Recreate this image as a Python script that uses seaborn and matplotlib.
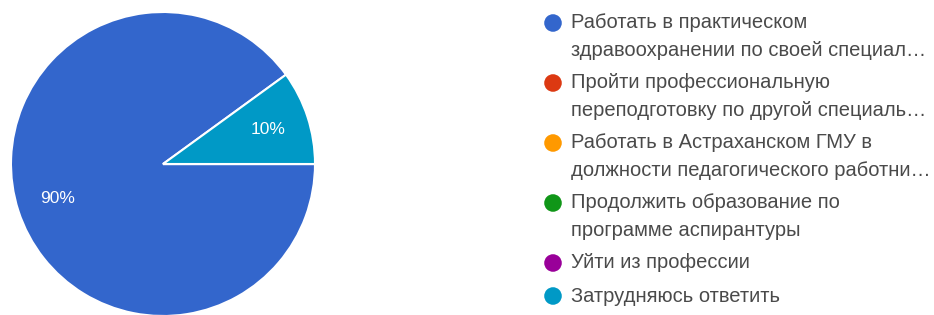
import matplotlib
matplotlib.use("Agg")
import matplotlib.pyplot as plt
import seaborn as sns

categories = [
    "Работать в практическом\nздравоохранении по своей специал…",
    "Пройти профессиональную\nпереподготовку по другой специаль…",
    "Работать в Астраханском ГМУ в\nдолжности педагогического работни…",
    "Продолжить образование по\nпрограмме аспирантуры",
    "Уйти из профессии",
    "Затрудняюсь ответить",
]
values = [90, 0, 0, 0, 0, 10]
colors = ["#3366CC", "#DC3912", "#FF9900", "#109618", "#990099", "#0099C6"]

sns.set_theme(style="white")
plt.rcParams["font.family"] = ["Liberation Sans", "DejaVu Sans"]

W, H = 934, 315
fig = plt.figure(figsize=(W / 100, H / 100), dpi=100)
fig.patch.set_facecolor("white")

# pie axes: center (163,164) px, radius 152 px
cx, cy, r = 163, 164, 152
ax = fig.add_axes([(cx - r) / W, (H - cy - r) / H, 2 * r / W, 2 * r / H])

def fmt(p):
    return f"{p:.0f}%" if p >= 1 else ""

wedges, texts, autotexts = ax.pie(
    values, colors=colors, startangle=36, counterclock=True,
    autopct=fmt, pctdistance=0.73,
    wedgeprops=dict(edgecolor="white", linewidth=1.5),
    textprops=dict(color="white", fontsize=12.5),
)
for w in wedges:
    w.set_clip_on(False)
ax.set_xlim(-1, 1)
ax.set_ylim(-1, 1)
ax.set_aspect("equal")
ax.axis("off")

# legend drawn in pixel coordinates
lax = fig.add_axes([0, 0, 1, 1], facecolor="none")
lax.set_xlim(0, W)
lax.set_ylim(H, 0)
lax.axis("off")
y = 23
line_h = 27
gap = 6
for lab, col in zip(categories, colors):
    lax.scatter([553], [y], s=160, color=col, edgecolors="none", clip_on=False)
    lines = lab.split("\n")
    for i, ln in enumerate(lines):
        lax.text(571, y + i * line_h, ln, va="center", ha="left",
                 fontsize=14.5, color="#4a4a4a")
    y += len(lines) * line_h + gap

fig.savefig("out.png", dpi=100, facecolor="white")
